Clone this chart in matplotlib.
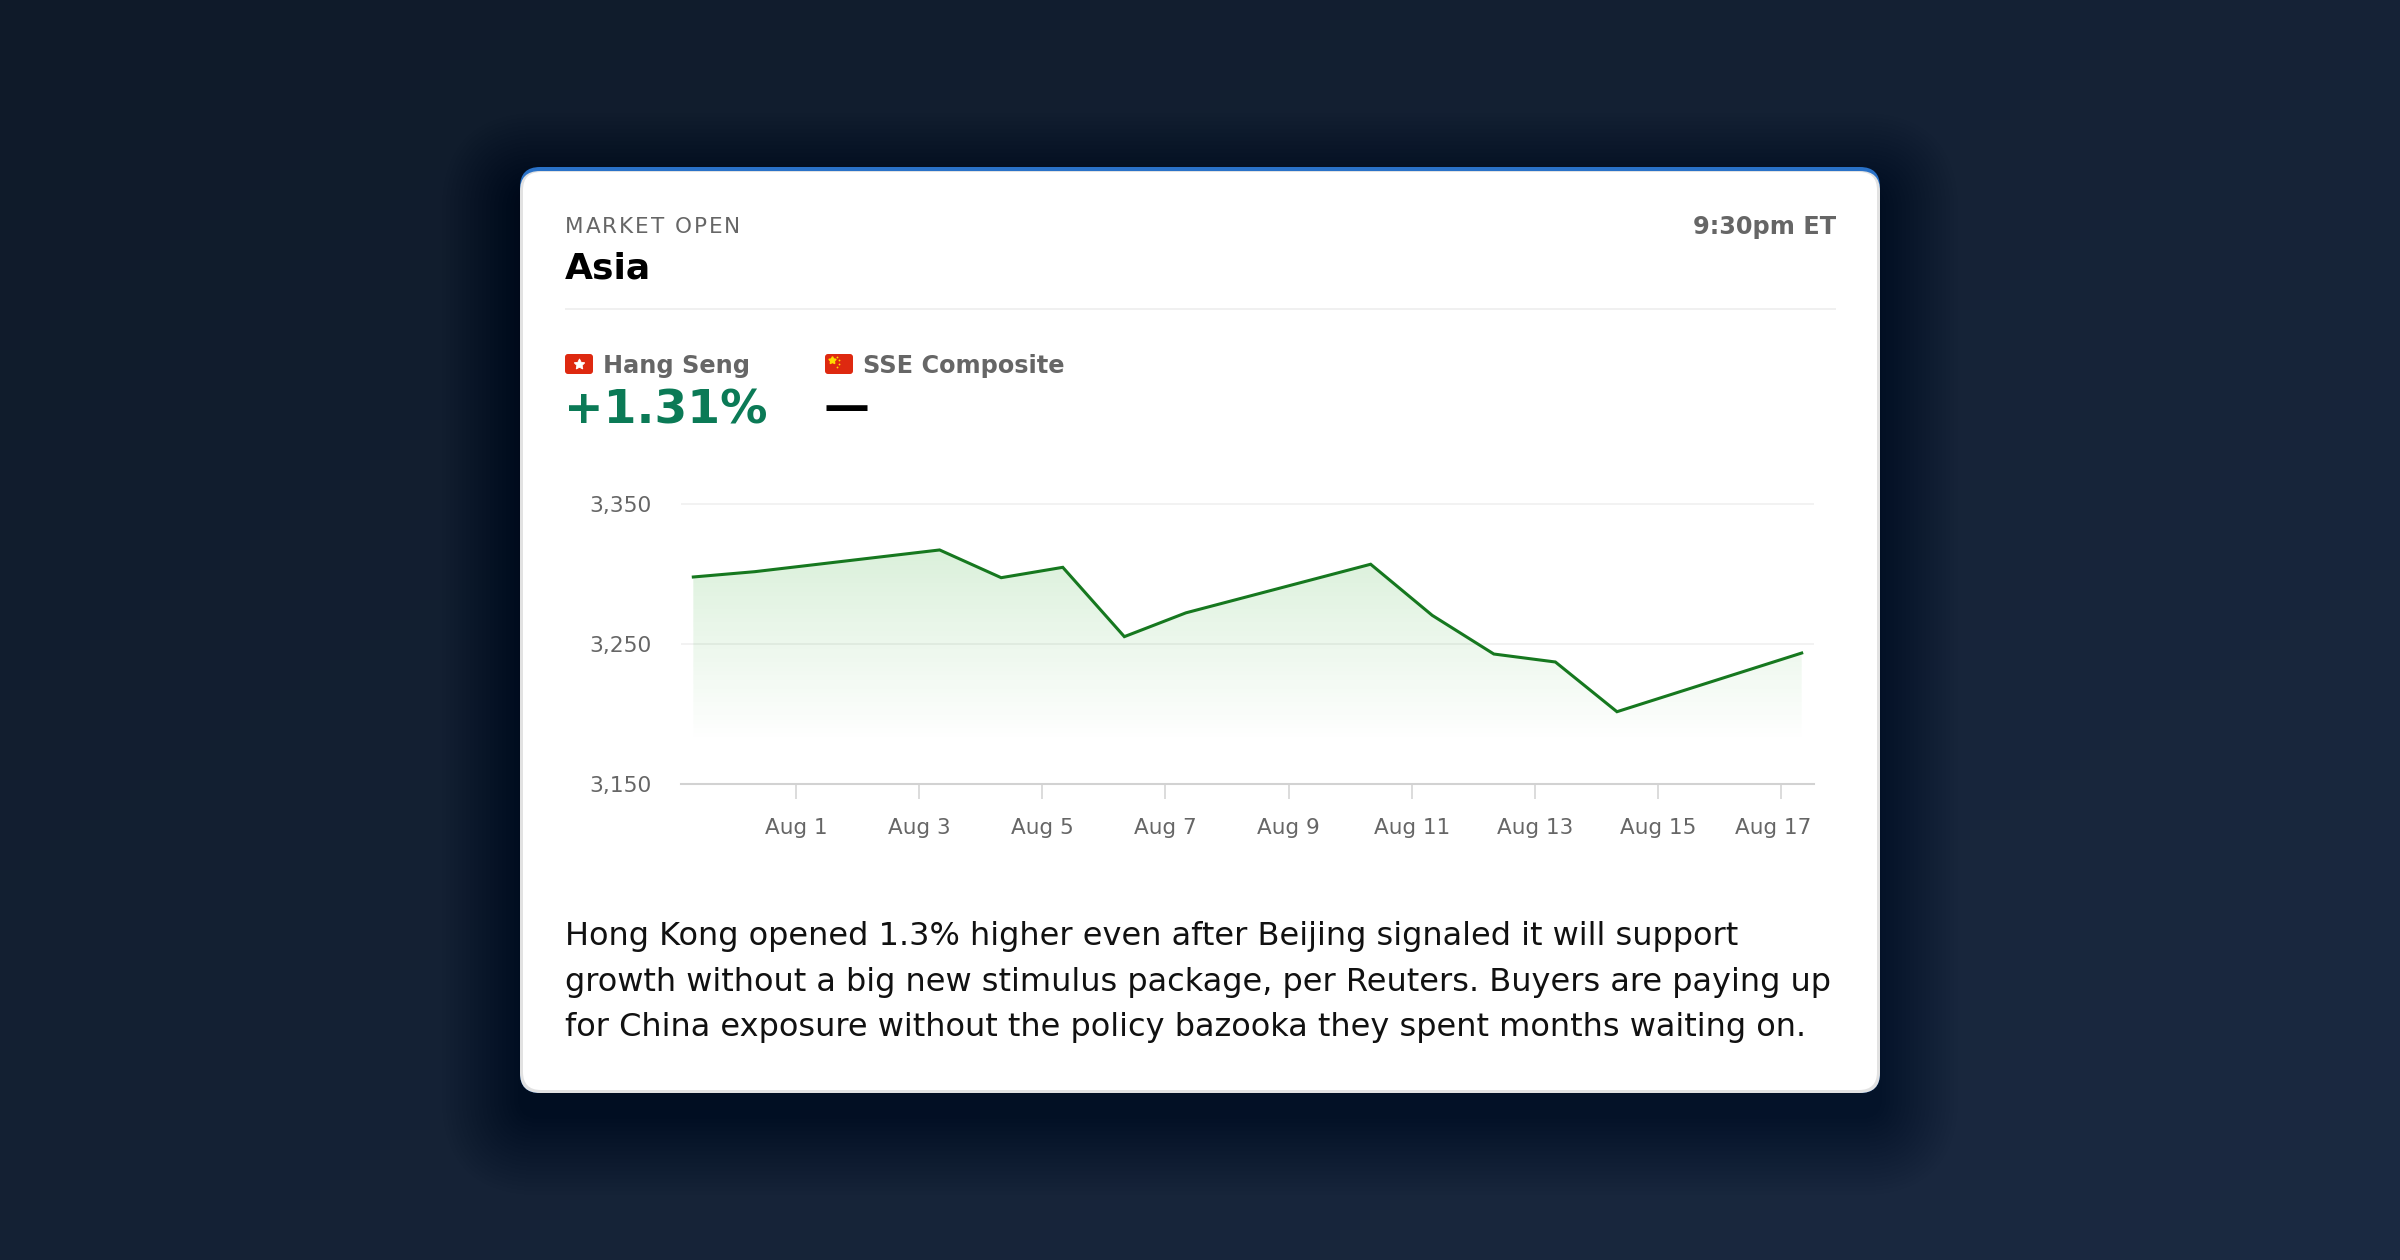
import datetime as dt
import numpy as np
import matplotlib
matplotlib.use("Agg")
import matplotlib.pyplot as plt
import matplotlib.dates as mdates
from matplotlib.patches import FancyBboxPatch
from matplotlib.ticker import FuncFormatter
from matplotlib.transforms import ScaledTranslation
from matplotlib.font_manager import findfont, FontProperties
from matplotlib.ft2font import FT2Font

# ── data ─────────────────────────────────────────────────────────────────────
DATES = ["2026-07-30", "2026-07-31", "2026-08-03", "2026-08-04", "2026-08-05",
         "2026-08-06", "2026-08-07", "2026-08-10", "2026-08-11", "2026-08-12",
         "2026-08-13", "2026-08-14", "2026-08-17"]
HANG_SENG = [3297.6, 3301.4, 3316.9, 3297.1, 3304.5, 3255.0, 3272.0,
             3306.7, 3270.2, 3242.6, 3236.9, 3201.4, 3243.3]
TICK_DATES = ["2026-08-01", "2026-08-03", "2026-08-05", "2026-08-07", "2026-08-09",
              "2026-08-11", "2026-08-13", "2026-08-15", "2026-08-17"]
Y_TICKS = [3150, 3250, 3350]

HEADER_KICKER = "MARKET OPEN"
HEADER_TITLE = "Asia"
HEADER_TIME = "9:30pm ET"
INDEX_NAMES = ["Hang Seng", "SSE Composite"]
INDEX_CHANGES = ["+1.31%", "—"]
BODY_LINES = [
    "Hong Kong opened 1.3% higher even after Beijing signaled it will support",
    "growth without a big new stimulus package, per Reuters. Buyers are paying up",
    "for China exposure without the policy bazooka they spent months waiting on.",
]

W, H, DPI = 2400, 1260, 100
GRAY = "#666666"
GREEN_TXT = "#0b7a56"
LINE_GREEN = "#16781f"

fig = plt.figure(figsize=(W / DPI, H / DPI), dpi=DPI)

# ── background + card (pixel coordinates, y down) ─────────────────────────────
bg = fig.add_axes([0, 0, 1, 1])
bg.set_xlim(0, W)
bg.set_ylim(H, 0)
bg.axis("off")

c0 = np.array([0x0f, 0x1a, 0x29]) / 255
c1 = np.array([0x1b, 0x2a, 0x42]) / 255
gx, gy = np.meshgrid(np.linspace(0, 1, 240), np.linspace(0, 1, 126))
t = np.clip(0.55 * gx + 0.45 * gy, 0, 1)[..., None]
bg.imshow(c0 + (c1 - c0) * t, extent=[0, W, H, 0], aspect="auto", zorder=0)

CX0, CX1, CY0, CY1 = 520, 1880, 167, 1093
R = 20


def rbox(x0, y0, x1, y1, r, **kw):
    p = FancyBboxPatch((x0, y0), x1 - x0, y1 - y0,
                       boxstyle=f"round,pad=0,rounding_size={r}", **kw)
    bg.add_patch(p)
    return p


# soft shadow, mostly below the card
for i in range(20):
    g = 2 + i * 4
    rbox(CX0 - g, CY0 - g + 24, CX1 + g, CY1 + g + 24, R + g,
         facecolor="black", edgecolor="none", alpha=0.009, zorder=1)

rbox(CX0, CY0, CX1, CY1, R, facecolor="#2a72c8", edgecolor="none", zorder=2)
rbox(CX0, CY0 + 4, CX1, CY1, R, facecolor="#e2e2e2", edgecolor="none", zorder=3)
rbox(CX0 + 3, CY0 + 5, CX1 - 3, CY1 - 3, R - 2, facecolor="white",
     edgecolor="none", zorder=4)


def adv_width(ch, size, bold=False):
    fp = FontProperties(family="DejaVu Sans", weight="bold" if bold else "normal")
    f = FT2Font(findfont(fp))
    f.set_size(size, DPI)
    return f.load_char(ord(ch)).linearHoriAdvance / 65536


# header
x = 565
for ch in HEADER_KICKER:
    bg.text(x, 233, ch, fontsize=15.5, color=GRAY, va="baseline", ha="left", zorder=5)
    x += adv_width(ch, 15.5) + 2.0
bg.text(565, 278.5, HEADER_TITLE, fontsize=26, fontweight="bold", color="black",
        va="baseline", ha="left", zorder=5)
bg.text(1836, 234, HEADER_TIME, fontsize=17.3, fontweight="bold", color=GRAY,
        va="baseline", ha="right", zorder=5)
bg.plot([565, 1836], [309, 309], color="#efefef", lw=1.3, zorder=5,
        solid_capstyle="butt")

# index legend with drawn flags
for fx, name, change, ccol, csize, cy in [
        (565, INDEX_NAMES[0], INDEX_CHANGES[0], GREEN_TXT, 34, 423),
        (825, INDEX_NAMES[1], INDEX_CHANGES[1], "black", 33, 421)]:
    rbox(fx, 354, fx + 28, 374, 3, facecolor="#de2910", edgecolor="none", zorder=5)
    if name == "Hang Seng":
        bg.plot(fx + 14, 364, marker=(5, 1, 0), ms=8, color="white", mec="white",
                mew=0.6, zorder=6)
    else:
        bg.plot(fx + 7, 360, marker=(5, 1, 0), ms=5.5, color="#ffde00", mec="#ffde00",
                zorder=6)
        for sx, sy in [(12, 357), (14, 360), (14, 364), (12, 367)]:
            bg.plot(fx + sx, sy, marker="o", ms=1.3, color="#ffde00", mec="none", zorder=6)
    bg.text(fx + 38, 372.5, name, fontsize=17.3, fontweight="bold", color=GRAY,
            va="baseline", ha="left", zorder=5)
    bg.text(fx - 1, cy, change, fontsize=csize, fontweight="bold", color=ccol,
            va="baseline", ha="left", zorder=5)

# body text
for i, line in enumerate(BODY_LINES):
    bg.text(565, 945 + i * 45.5, line, fontsize=23, color="#111111",
            va="baseline", ha="left", zorder=5)

# ── chart ─────────────────────────────────────────────────────────────────────
YLO, YHI = 3150, 3352
px_per_unit = (783.7 - 503.6) / 200
ax_top = 503.6 - (YHI - 3350) * px_per_unit
ax_bot = 783.7
AX_L, AX_R = 681, 1814
ax = fig.add_axes([AX_L / W, 1 - ax_bot / H, (AX_R - AX_L) / W, (ax_bot - ax_top) / H])
ax.set_facecolor("none")
ax.set_zorder(6)

times = [dt.datetime.fromisoformat(d + " 08:00") for d in DATES]
xn = mdates.date2num(times)
vals = np.array(HANG_SENG)

poly = ax.fill_between(xn, vals, YLO, facecolor="none", edgecolor="none")
grad = np.zeros((256, 1, 4))
grad[..., 0], grad[..., 1], grad[..., 2] = 0.16, 0.66, 0.16
grad[:, 0, 3] = np.linspace(0.17, 0.0, 256)
im = ax.imshow(grad, extent=[xn[0], xn[-1], 3180, vals.max()], origin="upper",
               aspect="auto", zorder=1, interpolation="bilinear")
im.set_clip_path(poly.get_paths()[0], transform=ax.transData)

ax.plot(xn, vals, color=LINE_GREEN, lw=2.2, zorder=3, solid_joinstyle="miter")

ax.set_xlim(xn[0] - 0.2, xn[-1] + 0.2)
ax.set_ylim(YLO, YHI)

tick_x = mdates.date2num([dt.datetime.fromisoformat(d) for d in TICK_DATES])
ax.set_xticks(tick_x)
ax.xaxis.set_major_formatter(FuncFormatter(
    lambda v, p: (lambda d: f"{d:%b} {d.day}")(mdates.num2date(v))))
ax.set_yticks(Y_TICKS)
ax.yaxis.set_major_formatter(FuncFormatter(lambda v, p: f"{int(v):,}"))

for s in ["top", "left", "right"]:
    ax.spines[s].set_visible(False)
ax.spines["bottom"].set_color("#d2d2d2")
ax.spines["bottom"].set_linewidth(1.5)
ax.tick_params(axis="x", length=11, width=1.1, color="#d2d2d2", pad=14,
               labelsize=15.5, labelcolor=GRAY)
ax.tick_params(axis="y", length=0, pad=21, labelsize=15.7, labelcolor=GRAY)
ax.grid(axis="y", color="#efefef", lw=1.1, zorder=0)
ax.set_axisbelow(True)

# last tick label kept inside the plot edge
last = ax.get_xticklabels()[-1]
last.set_transform(last.get_transform() + ScaledTranslation(-8 / DPI, 0, fig.dpi_scale_trans))

fig.savefig("out.png", dpi=DPI)
